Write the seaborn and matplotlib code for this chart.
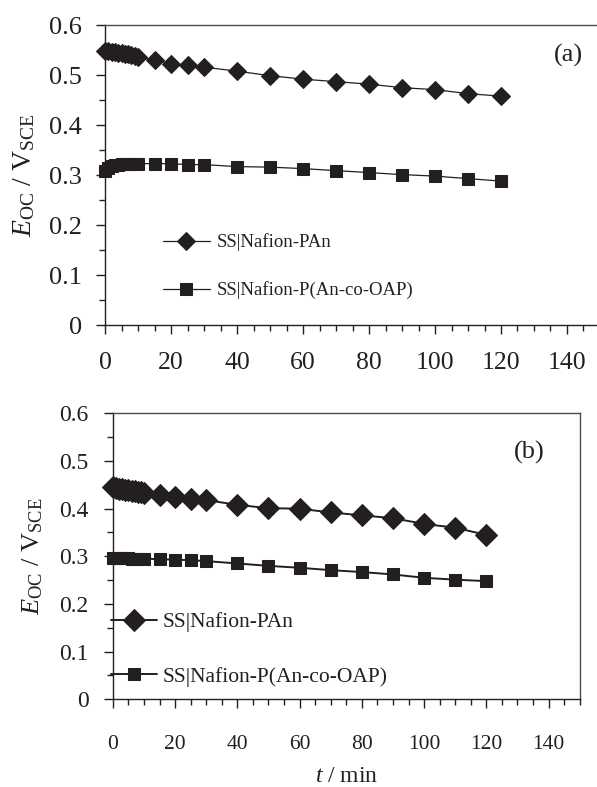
import matplotlib
matplotlib.use("Agg")
import matplotlib.pyplot as plt
from matplotlib.ticker import MultipleLocator
import seaborn as sns
import pandas as pd

# -------------------------
# Data
# -------------------------
t = [0, 1, 2, 3, 4, 5, 6, 7, 8, 9, 10, 15, 20, 25, 30,
     40, 50, 60, 70, 80, 90, 100, 110, 120]

pan_a = [0.549, 0.548, 0.547, 0.546, 0.545, 0.544, 0.543, 0.542, 0.541, 0.539, 0.537,
         0.530, 0.523, 0.520, 0.516, 0.508, 0.499, 0.492, 0.487, 0.482, 0.475, 0.471,
         0.463, 0.458]
cop_a = [0.308, 0.315, 0.318, 0.320, 0.321, 0.322, 0.322, 0.323, 0.323, 0.323, 0.323,
         0.323, 0.323, 0.321, 0.321, 0.317, 0.316, 0.313, 0.309, 0.305, 0.301, 0.298,
         0.293, 0.288]

pan_b = [0.446, 0.444, 0.442, 0.441, 0.440, 0.439, 0.438, 0.437, 0.436, 0.435, 0.433,
         0.428, 0.425, 0.421, 0.418, 0.408, 0.401, 0.400, 0.392, 0.386, 0.380, 0.368,
         0.360, 0.345]
cop_b = [0.297, 0.297, 0.296, 0.296, 0.296, 0.296, 0.295, 0.295, 0.295, 0.295, 0.295,
         0.294, 0.293, 0.292, 0.290, 0.285, 0.280, 0.276, 0.271, 0.267, 0.262, 0.255,
         0.251, 0.248]

labels = ["SS|Nafion-PAn", "SS|Nafion-P(An-co-OAP)"]
panel_tags = ["(a)", "(b)"]

# -------------------------
# Style
# -------------------------
sns.set_style("ticks")
plt.rcParams["font.family"] = ["Liberation Serif", "DejaVu Serif"]
plt.rcParams["mathtext.fontset"] = "custom"
plt.rcParams["mathtext.rm"] = "Liberation Serif"
plt.rcParams["mathtext.it"] = "Liberation Serif:italic"

ink = "#231f20"
ylab = r"$E_{\rm OC}$ / V$_{\rm SCE}$"

fig = plt.figure(figsize=(5.97, 7.87), dpi=100)
ax_a = fig.add_axes([0.176, 0.587, 0.829, 0.381])
ax_b = fig.add_axes([0.189, 0.1114, 0.782, 0.3634])


def style_axes(ax, xfs, yfs, xpad, ypad):
    ax.set_xlim(0, 150)
    ax.set_ylim(0, 0.6)
    ax.xaxis.set_major_locator(MultipleLocator(20))
    ax.xaxis.set_minor_locator(MultipleLocator(5))
    ax.yaxis.set_minor_locator(MultipleLocator(0.05))
    ax.set_yticks([0, 0.1, 0.2, 0.3, 0.4, 0.5, 0.6])
    ax.set_yticklabels(["0", "0.1", "0.2", "0.3", "0.4", "0.5", "0.6"])
    ax.tick_params(axis="both", which="major", direction="out", length=6.5,
                   width=1.0, color=ink, labelcolor=ink)
    ax.tick_params(axis="both", which="minor", direction="out", length=4.5,
                   width=1.0, color=ink)
    ax.tick_params(axis="x", which="major", pad=xpad, labelsize=xfs)
    ax.tick_params(axis="y", which="major", pad=ypad, labelsize=yfs)
    for s in ax.spines.values():
        s.set_color("#4a4a4a")
        s.set_linewidth(1.0)
    ax.spines["left"].set_color(ink)
    ax.spines["bottom"].set_color(ink)


# -------------------------
# Panel (a)
# -------------------------
df_a = pd.DataFrame({"t": t, "pan": pan_a, "cop": cop_a})
sns.lineplot(data=df_a, x="t", y="pan", ax=ax_a, color=ink, lw=0.9, marker="D",
             markersize=9, markeredgecolor=ink, label=labels[0], estimator=None,
             sort=False, clip_on=False)
sns.lineplot(data=df_a, x="t", y="cop", ax=ax_a, color=ink, lw=0.9, marker="s",
             markersize=8.5, markeredgecolor=ink, label=labels[1], estimator=None,
             sort=False, clip_on=False)
style_axes(ax_a, 18.5, 19, 13, 10)
ax_a.spines["right"].set_visible(False)
ax_a.set_xlabel("")
ax_a.set_ylabel(ylab, fontsize=20, color=ink, labelpad=9)
ax_a.text(0.937, 0.9, panel_tags[0], transform=ax_a.transAxes, fontsize=19,
          color=ink, ha="center", va="center")
ax_a.legend(loc="upper left", bbox_to_anchor=(0.117, 0.305), frameon=False,
            fontsize=13.5, handlelength=2.5, handletextpad=0.35, labelspacing=1.6,
            borderpad=0, borderaxespad=0, labelcolor=ink)

# -------------------------
# Panel (b)
# -------------------------
df_b = pd.DataFrame({"t": t, "pan": pan_b, "cop": cop_b})
sns.lineplot(data=df_b, x="t", y="pan", ax=ax_b, color=ink, lw=1.4, marker="D",
             markersize=11.5, markeredgecolor=ink, label=labels[0], estimator=None,
             sort=False, clip_on=False)
sns.lineplot(data=df_b, x="t", y="cop", ax=ax_b, color=ink, lw=1.4, marker="s",
             markersize=8, markeredgecolor=ink, label=labels[1], estimator=None,
             sort=False, clip_on=False)
style_axes(ax_b, 15.5, 17, 19, 11)
ax_b.set_xlabel(r"$t$ / min", fontsize=17, color=ink, labelpad=9)
ax_b.set_ylabel(ylab, fontsize=19, color=ink, labelpad=10)
ax_b.text(0.893, 0.864, panel_tags[1], transform=ax_b.transAxes, fontsize=19,
          color=ink, ha="center", va="center")
ax_b.legend(loc="upper left", bbox_to_anchor=(-0.003, 0.305), frameon=False,
            fontsize=15.5, handlelength=2.1, handletextpad=0.3, labelspacing=1.6,
            borderpad=0, borderaxespad=0, labelcolor=ink)

fig.savefig("out.png", dpi=100)
